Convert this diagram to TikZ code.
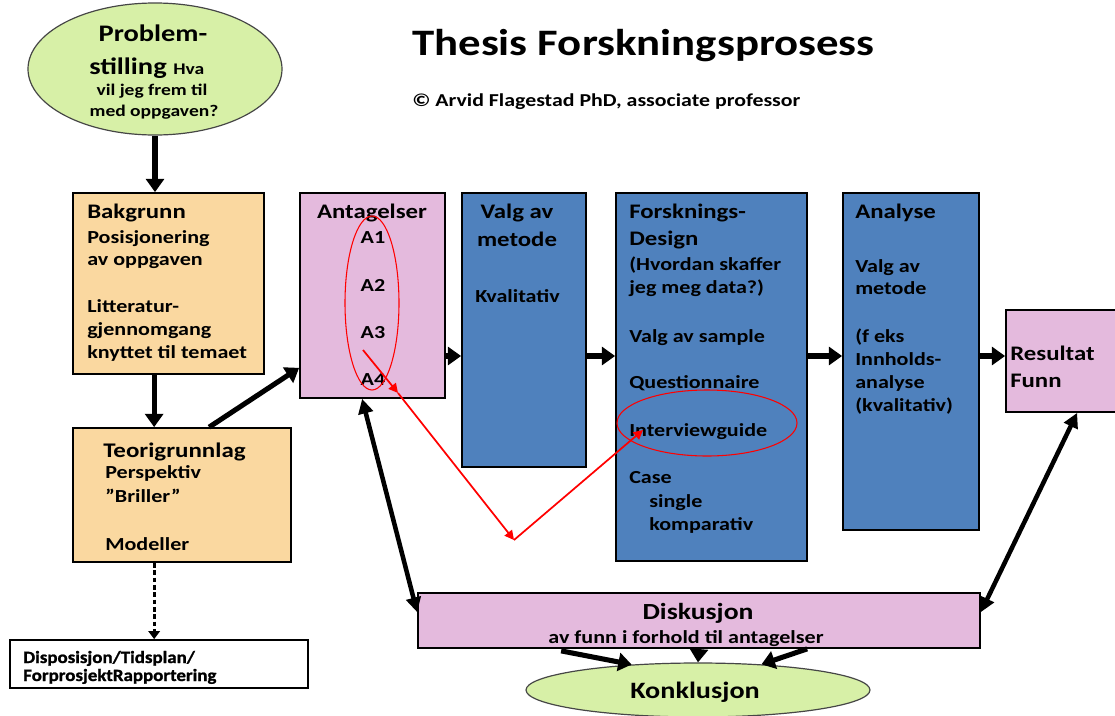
\documentclass[tikz,border=0pt]{standalone}
\usepackage{fontspec}
\newfontfamily\cf{Carlito}[FakeStretch=1.2]
\newfontfamily\cfheavy{Carlito}[FakeStretch=1.1,FakeBold=1.2]
\usetikzlibrary{arrows.meta,shapes.geometric,fit,calc}

\definecolor{leaf}{RGB}{215,240,167}
\definecolor{sand}{RGB}{250,216,160}
\definecolor{mauve}{RGB}{228,186,221}
\definecolor{steel}{RGB}{79,129,189}
\definecolor{rim}{RGB}{70,70,70}

\newcommand\fs[1]{\cf\bfseries\fontsize{#1}{#1}\selectfont}
\newcommand\bodyfont{\fs{13.8}}
\newcommand\headfont{\fs{15.5}}

\tikzset{
  box/.style={draw=black, line width=1.3pt, inner sep=0pt},
  oval/.style={ellipse, draw=rim, line width=0.9pt, fill=leaf, inner sep=0pt},
  tl/.style={anchor=base west, inner sep=0pt, font=\bodyfont},
  th/.style={anchor=base west, inner sep=0pt, font=\headfont},
  tc/.style={anchor=base, inner sep=0pt, font=\bodyfont},
  flow/.style={line width=3.8pt, -{Triangle[length=10pt,width=13.5pt]}},
  dotflow/.style={line width=2.3pt, dash pattern=on 3.5pt off 2pt, -{Triangle[length=6pt,width=8.5pt]}},
  twoway/.style={line width=3.4pt, {Triangle[length=11pt,width=11pt]}-{Triangle[length=11pt,width=11pt]}},
  note/.style={red, line width=1.3pt, -{Triangle[length=7pt,width=7pt]}},
  ring/.style={red, line width=0.8pt},
}

\begin{document}
\begin{tikzpicture}[x=0.75pt,y=-0.75pt]
\useasboundingbox (0,0) rectangle (1115,715);
\fill[white] (0,0) rectangle (1115,715);

% ---- title ----
\node[anchor=base west, inner sep=0pt, font=\fs{28}] (title) at (412,55) {Thesis Forskningsprosess};
\node[anchor=base west, inner sep=0pt, font=\fs{13.65}] (author) at (412,106) {© Arvid Flagestad PhD, associate professor};

% ---- problem statement ----
\node[oval, minimum width=190.5pt, minimum height=99pt] (prob) at (155,69) {};
\node[anchor=base, inner sep=0pt, font=\fs{17.8}] (prob-1) at (153,41) {Problem-};
\node[anchor=base west, inner sep=0pt, font=\fs{17.8}] (prob-2) at (89,74) {stilling\hspace{5pt}\fs{12.2}Hva};
\node[anchor=base, inner sep=0pt, font=\fs{12.2}] (prob-3) at (152,95) {vil jeg frem til};
\node[anchor=base, inner sep=0pt, font=\fs{12.2}] (prob-4) at (154,116) {med oppgaven?};

% ---- left column ----
\node[box, fill=sand, fit={(73,193) (264,374)}] (bak) {};
\node[th] (bak-0) at (87,218) {Bakgrunn};
\foreach \y/\t [count=\i] in {243/Posisjonering, 265/av oppgaven, 312/Litteratur-, 335/gjennomgang, 358/knyttet til temaet}
  \node[tl] (bak-\i) at (87,\y) {\t};

\node[box, fill=sand, fit={(73,428) (291,562)}] (teo) {};
\node[anchor=base west, inner sep=0pt, font=\fs{15.6}] (teo-0) at (103,457) {Teorigrunnlag};
\foreach \y/\t [count=\i] in {478/Perspektiv, 502/”Briller”, 550/Modeller}
  \node[tl] (teo-\i) at (105,\y) {\t};

\node[box, fill=white, fit={(10,640) (308,688)}] (dis) {};
\node[anchor=base west, inner sep=0pt, font=\cfheavy\bfseries\fontsize{12.9}{12.9}\selectfont] (dis-1) at (23,663) {Disposisjon/Tidsplan/};
\node[anchor=base west, inner sep=0pt, font=\cfheavy\bfseries\fontsize{12.9}{12.9}\selectfont] (dis-2) at (23,681) {ForprosjektRapportering};

% ---- process row ----
\node[box, fill=mauve, fit={(300,193) (445,398)}] (ant) {};
\node[anchor=base, inner sep=0pt, font=\headfont] (ant-0) at (372,218) {Antagelser};
\foreach \y/\t [count=\i] in {243/A1, 291/A2, 338/A3, 385/A4}
  \node[tc] (a\i) at (373,\y) {\t};

\node[box, fill=steel, fit={(462,193) (586,467)}] (val) {};
\node[anchor=base, inner sep=0pt, font=\headfont] (val-1) at (517,218) {Valg av};
\node[anchor=base, inner sep=0pt, font=\headfont] (val-2) at (517,246) {metode};
\node[tl] (val-3) at (475,302) {Kvalitativ};

\node[box, fill=steel, fit={(616,193) (807,561)}] (fd) {};
\node[th] (fd-1) at (629,218) {Forsknings-};
\node[th] (fd-2) at (629,245) {Design};
\foreach \y/\t [count=\i] in {270/(Hvordan skaffer, 293/jeg meg data?), 342/Valg av sample, 388/Questionnaire, 436/Interviewguide, 483/Case}
  \node[tl] (fd-t\i) at (629,\y) {\t};
\node[tl] (fd-s1) at (649,507) {single};
\node[tl] (fd-s2) at (649,530) {komparativ};

\node[box, fill=steel, fit={(843,193) (979,530)}] (ana) {};
\node[th] (ana-0) at (855,218) {Analyse};
\foreach \y/\t [count=\i] in {272/Valg av, 294/metode, 342/(f eks, 365/Innholds-, 388/analyse, 411/(kvalitativ)}
  \node[tl] (ana-\i) at (855,\y) {\t};

\node[box, fill=mauve, fit={(1006,310) (1118,412)}] (res) {};
\node[th] (res-1) at (1010,360) {Resultat};
\node[th] (res-2) at (1010,387) {Funn};

% ---- discussion and conclusion ----
\node[box, fill=mauve, fit={(418,593) (980,648)}] (disk) {};
\node[anchor=base, inner sep=0pt, font=\fs{17.3}] (disk-1) at (698,619) {Diskusjon};
\node[tc] (disk-2) at (686,643) {av funn i forhold til antagelser};

\node[oval, minimum width=258pt, minimum height=40.5pt] (konk) at (698,690) {};
\node[anchor=base, inner sep=0pt, font=\fs{17.6}] (konk-1) at (695,698) {Konklusjon};

% ---- connectors ----
\coordinate (row) at (0,356);
\draw[flow] (prob.south) -- (prob.south |- bak.north);
\draw[flow] ($(bak.south west)+(82,0)$) -- ($(teo.north west)+(82,0)$);
\draw[flow] ($(teo.north west)+(137,0)$) -- ($(ant.south west)+(0,-31)$);
\draw[dotflow] ($(teo.south west)+(82,0)$) -- ($(dis.north west)+(145,0)$);
\draw[flow] (ant.east |- row) -- (val.west |- row);
\draw[flow] (val.east |- row) -- (fd.west |- row);
\draw[flow] (fd.east |- row) -- (ana.west |- row);
\draw[flow] (ana.east |- row) -- (res.west |- row);
\draw[twoway] ($(ant.south west)+(63,0)$) -- ($(disk.north west)+(0,20)$);
\draw[twoway] ($(res.south west)+(72,0)$) -- ($(disk.north east)+(0,20)$);
\draw[flow] ($(disk.south west)+(144,2)$) -- (konk.159);
\draw[flow] (disk.south) -- (konk.north);
\draw[flow] ($(disk.south west)+(390,0)$) -- (konk.22);

% ---- red annotations ----
\draw[ring] (372,303) ellipse [x radius=27, y radius=87];
\draw[ring] (707,423) ellipse [x radius=90, y radius=33];
\coordinate (r0) at (363,350);
\coordinate (r1) at (398,393);
\coordinate (r2) at (514,540);
\coordinate (r3) at (643,430);
\draw[note] (r0) -- (r1);
\draw[note] (r1) -- (r2);
\draw[note] (r2) -- (r3);
\end{tikzpicture}
\end{document}
